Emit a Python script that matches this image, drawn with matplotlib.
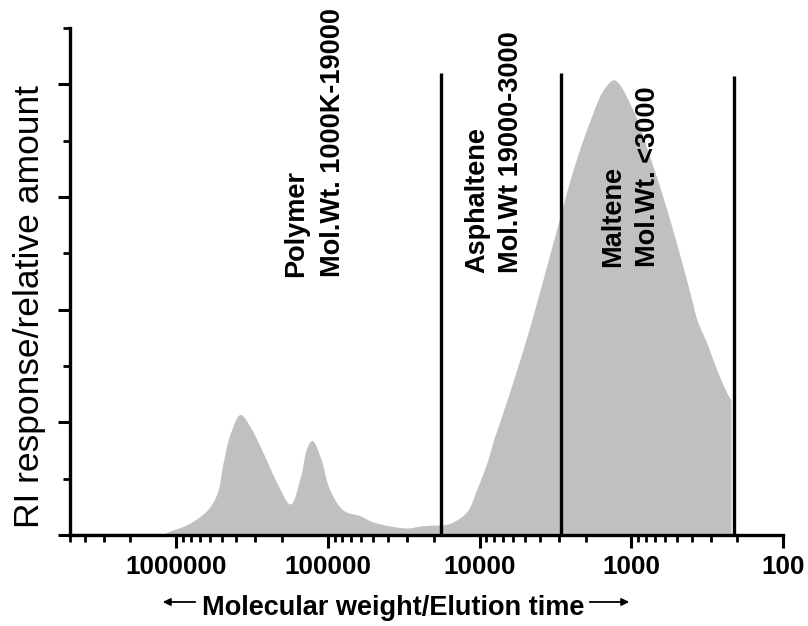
import numpy as np
import matplotlib
matplotlib.use("Agg")
import matplotlib.pyplot as plt
from matplotlib.ticker import LogLocator, FixedLocator, MultipleLocator, FuncFormatter, NullFormatter
from matplotlib.patches import FancyArrowPatch

plt.rcParams['font.family'] = ['Liberation Sans', 'DejaVu Sans']

# ---- data ----
mol_weight = [5.0e6, 1.27e6, 1.05e6, 8.1e5, 6.25e5, 5.37e5, 4.9e5, 4.4e5, 3.78e5, 3.25e5,
              2.67e5, 2.16e5, 1.77e5, 1.52e5, 1.37e5, 1.27e5, 1.12e5, 9.7e4, 7.9e4, 6.1e4,
              5.0e4, 3.0e4, 2.47e4, 1.9e4, 1.74e4, 1.5e4, 1.21e4, 1.04e4, 8.9e3, 8.1e3,
              7.3e3, 6.3e3, 4.9e3, 4.0e3, 3.08e3, 2.42e3, 1.87e3, 1.53e3, 1.30e3, 973,
              752, 581, 456, 398, 369, 317, 272, 230, 220]
ri_response = [0.01, 0.01, 0.044, 0.106, 0.22, 0.37, 0.64, 0.90, 1.07, 0.96,
               0.73, 0.46, 0.275, 0.51, 0.78, 0.84, 0.69, 0.40, 0.22, 0.17,
               0.115, 0.062, 0.08, 0.089, 0.089, 0.115, 0.21, 0.41, 0.65, 0.84,
               1.02, 1.28, 1.75, 2.17, 2.73, 3.24, 3.68, 3.95, 4.04, 3.77,
               3.35, 2.88, 2.38, 2.08, 1.91, 1.70, 1.46, 1.24, 1.20]

divider_mw = [18000, 2900, 210]
divider_top = [4.10, 4.10, 4.07]

major_ticks = [1e6, 1e5, 1e4, 1e3, 1e2]

region_labels = [("Polymer", "Mol.Wt. 1000K-19000"),
                 ("Asphaltene", "Mol.Wt 19000-3000"),
                 ("Maltene", "Mol.Wt. <3000")]


def smooth_path(xs, ys, n=24, alpha=0.5):
    """Centripetal Catmull-Rom through the points (log-x space) for a smooth outline."""
    u = np.log10(np.asarray(xs, float)) * 150.0
    v = np.asarray(ys, float) * 112.0
    P = np.column_stack([u, v])
    P = np.vstack([2 * P[0] - P[1], P, 2 * P[-1] - P[-2]])
    out = []
    for i in range(1, len(P) - 2):
        p0, p1, p2, p3 = P[i - 1], P[i], P[i + 1], P[i + 2]
        t0 = 0.0
        t1 = t0 + max(np.linalg.norm(p1 - p0), 1e-6) ** alpha
        t2 = t1 + max(np.linalg.norm(p2 - p1), 1e-6) ** alpha
        t3 = t2 + max(np.linalg.norm(p3 - p2), 1e-6) ** alpha
        t = np.linspace(t1, t2, n, endpoint=False)[:, None]
        a1 = (t1 - t) / (t1 - t0) * p0 + (t - t0) / (t1 - t0) * p1
        a2 = (t2 - t) / (t2 - t1) * p1 + (t - t1) / (t2 - t1) * p2
        a3 = (t3 - t) / (t3 - t2) * p2 + (t - t2) / (t3 - t2) * p3
        b1 = (t2 - t) / (t2 - t0) * a1 + (t - t0) / (t2 - t0) * a2
        b2 = (t3 - t) / (t3 - t1) * a2 + (t - t1) / (t3 - t1) * a3
        c = (t2 - t) / (t2 - t1) * b1 + (t - t1) / (t2 - t1) * b2
        out.append(c)
    out.append(P[-2][None, :])
    C = np.vstack(out)
    return 10 ** (C[:, 0] / 150.0), np.clip(C[:, 1] / 112.0, 0, None)


# ---- figure ----
W, H = 808, 626
fig = plt.figure(figsize=(W / 100, H / 100), dpi=100)
ax = fig.add_axes([70 / W, 1 - 535 / H, (783 - 70) / W, (535 - 28) / H])

sx, sy = smooth_path(mol_weight, ri_response)
sx = np.append(sx, sx[-1])
sy = np.append(sy, 0.0)
ax.fill_between(sx, 0, sy, color='#c0c0c0', lw=0, zorder=1)
ax.plot(mol_weight[:2], ri_response[:2], color='#8a8a8a', lw=1.0, zorder=1)
ax.vlines(divider_mw, 0, divider_top, color='black', lw=2.4, zorder=3)

ax.set_xscale('log')
ax.set_xlim(5e6, 100)
ax.set_ylim(0, 4.5)

for s in ['top', 'right']:
    ax.spines[s].set_visible(False)
for s in ['left', 'bottom']:
    ax.spines[s].set_linewidth(2.4)
    ax.spines[s].set_zorder(4)

ax.xaxis.set_major_locator(FixedLocator(major_ticks))
ax.xaxis.set_minor_locator(LogLocator(base=10, subs=np.arange(2, 10), numticks=20))
ax.xaxis.set_major_formatter(FuncFormatter(lambda v, p: f"{int(round(v))}"))
ax.xaxis.set_minor_formatter(NullFormatter())

ax.yaxis.set_major_locator(MultipleLocator(1))
ax.yaxis.set_minor_locator(MultipleLocator(0.5))
ax.yaxis.set_major_formatter(NullFormatter())

ax.tick_params(axis='x', which='major', length=9.5, width=2.2, pad=5, labelsize=18.7)
ax.tick_params(axis='x', which='minor', length=5, width=2.0)
ax.tick_params(axis='y', which='major', length=8.6, width=2.2)
ax.tick_params(axis='y', which='minor', length=5, width=2.0)
for lab in ax.get_xticklabels():
    lab.set_fontweight('bold')

# region annotations (column centres / bottoms in pixels)
label_pos = [((296, 333), 277), ((477, 511), 273), ((613, 648), 267)]
for (l1, l2), ((x1, x2), yb) in zip(region_labels, label_pos):
    fig.text(x1 / W, 1 - yb / H, l1, rotation=90, ha='center', va='bottom',
             fontsize=19.5, fontweight='bold', zorder=5)
    fig.text(x2 / W, 1 - yb / H, l2, rotation=90, ha='center', va='bottom',
             fontsize=19.5, fontweight='bold', zorder=5)

# axis labels
fig.text(30 / W, 1 - 307 / H, "RI response/relative amount", rotation=90,
         ha='center', va='center', fontsize=25.5)
fig.text(393.5 / W, 1 - 615 / H, "Molecular weight/Elution time",
         ha='center', va='baseline', fontsize=19.5, fontweight='bold')

for (xa, xb) in [(198, 160), (587, 632)]:
    arr = FancyArrowPatch((xa / W, 1 - 602 / H), (xb / W, 1 - 602 / H),
                          transform=fig.transFigure, arrowstyle='-|>',
                          mutation_scale=11, lw=1.3, color='black')
    fig.add_artist(arr)

fig.savefig('out.png', dpi=100)
